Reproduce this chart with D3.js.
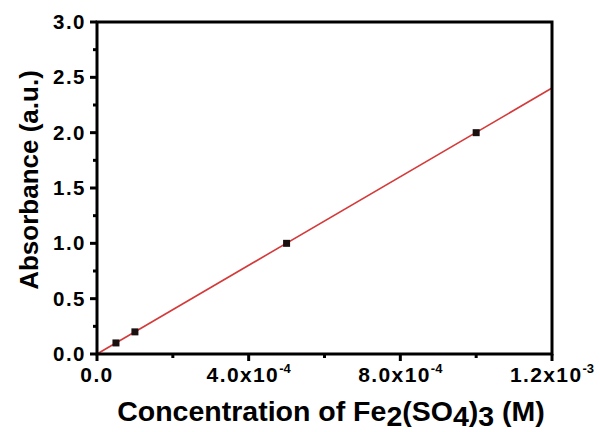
<!DOCTYPE html>
<html>
<head>
<meta charset="utf-8">
<script src="https://cdn.jsdelivr.net/npm/d3@7"></script>
<style>
  body { margin: 0; background: #fff; }
  svg { display: block; font-family: "Liberation Sans", Arial, sans-serif; font-weight: bold; }
</style>
</head>
<body>
<svg id="vis" width="600" height="432"></svg>
<script>
// measured points
const concentration = [5e-5, 1e-4, 5e-4, 1e-3];
const absorbance = [0.1, 0.2, 1.0, 2.0];
// linear fit (through origin)
const fitSlope = 2003;
const fitIntercept = 0;

const xTicks = [0, 4e-4, 8e-4, 1.2e-3];
const xTickLabels = [["0.0", ""], ["4.0x10", "-4"], ["8.0x10", "-4"], ["1.2x10", "-3"]];
const xMinor = [2e-4, 6e-4, 1e-3];
const yTicks = [0, 0.5, 1.0, 1.5, 2.0, 2.5, 3.0];
const yMinor = [0.25, 0.75, 1.25, 1.75, 2.25, 2.75];

const svg = d3.select('#vis');
const margin = {top: 22, right: 48, bottom: 78, left: 97};
const W = 600 - margin.left - margin.right;
const H = 432 - margin.top - margin.bottom;

const x = d3.scaleLinear().domain([0, 1.2e-3]).range([0, W]);
const y = d3.scaleLinear().domain([0, 3.0]).range([H, 0]);

const g = svg.append('g').attr('transform', 'translate(' + margin.left + ',' + margin.top + ')');

// fit line
g.append('line')
    .attr('x1', x(0)).attr('y1', y(fitIntercept))
    .attr('x2', x(1.2e-3)).attr('y2', y(fitIntercept + fitSlope * 1.2e-3))
    .attr('stroke', '#d43a3a')
    .attr('stroke-width', 1.6);

// points
g.selectAll('.pt')
    .data(concentration)
    .enter().append('rect')
    .attr('class', 'pt')
    .attr('x', function (d) { return x(d) - 3.5; })
    .attr('y', function (d, i) { return y(absorbance[i]) - 3.5; })
    .attr('width', 7)
    .attr('height', 7)
    .attr('fill', '#1a1010');

// x ticks
g.selectAll('.xmaj').data(xTicks).enter().append('line')
    .attr('x1', function (d) { return x(d); }).attr('x2', function (d) { return x(d); })
    .attr('y1', H).attr('y2', H + 7)
    .attr('stroke', '#000').attr('stroke-width', 3);
g.selectAll('.xmin').data(xMinor).enter().append('line')
    .attr('x1', function (d) { return x(d); }).attr('x2', function (d) { return x(d); })
    .attr('y1', H).attr('y2', H + 4)
    .attr('stroke', '#000').attr('stroke-width', 3);

// y ticks
g.selectAll('.ymaj').data(yTicks).enter().append('line')
    .attr('y1', function (d) { return y(d); }).attr('y2', function (d) { return y(d); })
    .attr('x1', 0).attr('x2', -7)
    .attr('stroke', '#000').attr('stroke-width', 3);
g.selectAll('.ymin').data(yMinor).enter().append('line')
    .attr('y1', function (d) { return y(d); }).attr('y2', function (d) { return y(d); })
    .attr('x1', 0).attr('x2', -4)
    .attr('stroke', '#000').attr('stroke-width', 3);

// frame
g.append('rect')
    .attr('width', W).attr('height', H)
    .attr('fill', 'none')
    .attr('stroke', '#000')
    .attr('stroke-width', 3);

// y tick labels
g.selectAll('.ylab').data(yTicks).enter().append('text')
    .attr('x', -11)
    .attr('y', function (d) { return y(d) + 7; })
    .attr('text-anchor', 'end')
    .attr('font-size', 20.5)
    .attr('letter-spacing', 1.5)
    .text(function (d) { return d.toFixed(1); });

// x tick labels
const xl = g.selectAll('.xlab').data(xTicks).enter().append('text')
    .attr('x', function (d) { return x(d); })
    .attr('y', H + 28)
    .attr('text-anchor', 'middle')
    .attr('font-size', 21)
    .attr('letter-spacing', 1.4);
xl.append('tspan').text(function (d, i) { return xTickLabels[i][0]; });
xl.append('tspan')
    .attr('dy', -9)
    .attr('font-size', 13)
    .attr('letter-spacing', 0)
    .text(function (d, i) { return xTickLabels[i][1]; });

// axis titles
const xt = svg.append('text')
    .attr('x', 331)
    .attr('y', 421)
    .attr('text-anchor', 'middle')
    .attr('font-size', 28.5);
xt.append('tspan').text('Concentration of Fe');
xt.append('tspan').attr('dy', 5).text('2');
xt.append('tspan').attr('dy', -5).text('(SO');
xt.append('tspan').attr('dy', 5).text('4');
xt.append('tspan').attr('dy', -5).text(')');
xt.append('tspan').attr('dy', 5).text('3');
xt.append('tspan').attr('dy', -5).text(' (M)');

svg.append('text')
    .attr('transform', 'translate(38,180) rotate(-90)')
    .attr('text-anchor', 'middle')
    .attr('font-size', 26)
    .text('Absorbance (a.u.)');
</script>
</body>
</html>
